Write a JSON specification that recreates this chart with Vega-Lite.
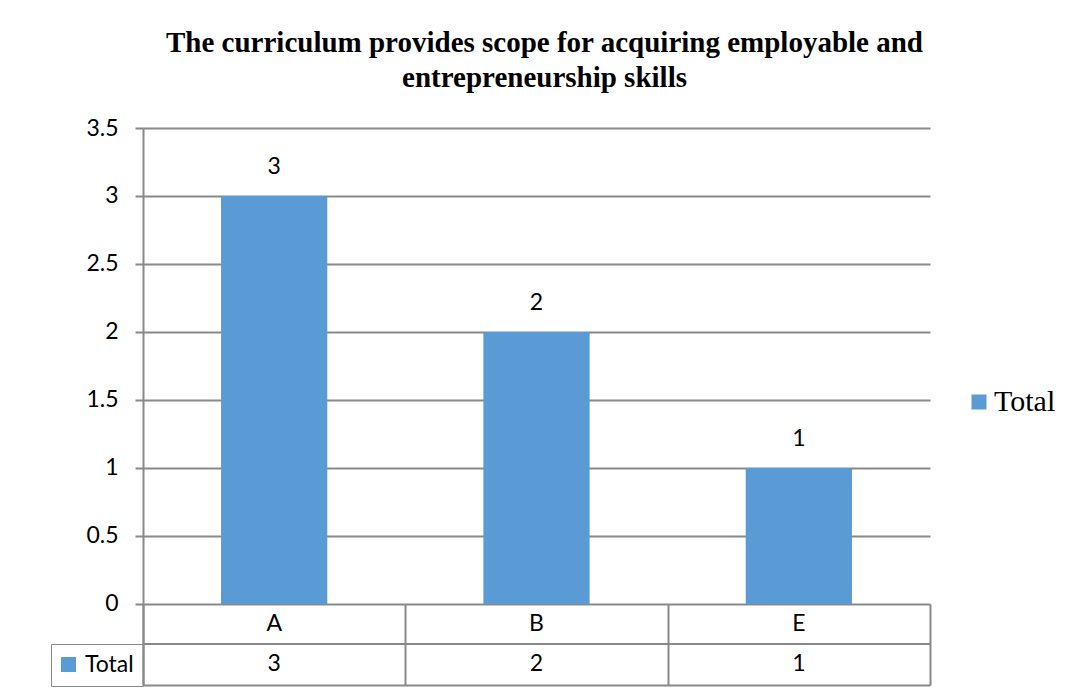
{
  "$schema": "https://vega.github.io/schema/vega-lite/v6.json",
  "autosize": "none",
  "padding": {"left": 143, "top": 128, "right": 141, "bottom": 12},
  "width": 787,
  "height": 557,
  "background": "white",
  "config": {
    "view": {"stroke": null},
    "font": "Lato"
  },
  "title": {
    "text": ["The curriculum provides scope for acquiring employable and", "entrepreneurship skills"],
    "font": "Liberation Serif",
    "fontWeight": "bold",
    "fontSize": 29,
    "lineHeight": 35,
    "color": "#000000",
    "anchor": "middle",
    "frame": "group",
    "dx": 8,
    "offset": 24
  },
  "data": {
    "values": [
      {"cat": "A", "value": 3, "series": "Total"},
      {"cat": "B", "value": 2, "series": "Total"},
      {"cat": "E", "value": 1, "series": "Total"}
    ]
  },
  "layer": [
    {
      "mark": {"type": "bar", "width": {"band": 0.405}},
      "encoding": {
        "x": {
          "field": "cat",
          "type": "nominal",
          "sort": null,
          "scale": {"paddingInner": 0, "paddingOuter": 0},
          "axis": {
            "title": null,
            "labels": false,
            "tickBand": "extent",
            "tickSize": -81,
            "tickColor": "#898989",
            "tickWidth": 2,
            "domainColor": "#898989",
            "domainWidth": 2
          }
        },
        "y": {
          "field": "value",
          "type": "quantitative",
          "scale": {"domain": [-0.596, 3.5], "nice": false, "zero": false},
          "axis": {
            "title": null,
            "values": [0, 0.5, 1, 1.5, 2, 2.5, 3, 3.5],
            "format": "~g",
            "grid": true,
            "gridColor": "#898989",
            "gridWidth": 2,
            "tickSize": 8,
            "tickColor": "#898989",
            "tickWidth": 2,
            "domainColor": "#898989",
            "domainWidth": 2,
            "labelFont": "Lato",
            "labelFontSize": 23,
            "labelColor": "#000000",
            "labelPadding": 17
          }
        },
        "color": {
          "field": "series",
          "type": "nominal",
          "scale": {"range": ["#5B9BD5"]},
          "legend": {
            "title": null,
            "orient": "none",
            "legendX": 821,
            "legendY": 259,
            "padding": 0,
            "symbolType": "square",
            "symbolSize": 225,
            "symbolStrokeWidth": 0,
            "labelFont": "Liberation Serif",
            "labelFontSize": 30,
            "labelColor": "#000000",
            "labelOffset": 0
          }
        }
      }
    },
    {
      "mark": {"type": "text", "baseline": "alphabetic", "dy": -22, "fontSize": 23, "font": "Lato", "color": "#000000"},
      "encoding": {
        "x": {"field": "cat", "type": "nominal", "sort": null},
        "y": {"field": "value", "type": "quantitative"},
        "text": {"field": "value", "type": "quantitative"}
      }
    },
    {
      "mark": {"type": "text", "baseline": "middle", "fontSize": 23, "font": "Lato", "color": "#000000"},
      "encoding": {
        "x": {"field": "cat", "type": "nominal", "sort": null},
        "y": {"datum": -0.147, "type": "quantitative"},
        "text": {"field": "cat", "type": "nominal"}
      }
    },
    {
      "mark": {"type": "text", "baseline": "middle", "fontSize": 23, "font": "Lato", "color": "#000000"},
      "encoding": {
        "x": {"field": "cat", "type": "nominal", "sort": null},
        "y": {"datum": -0.445, "type": "quantitative"},
        "text": {"field": "value", "type": "quantitative"}
      }
    },
    {
      "mark": {"type": "rule", "color": "#898989", "strokeWidth": 2},
      "encoding": {
        "y": {"datum": -0.294, "type": "quantitative"}
      }
    },
    {
      "transform": [{"filter": "false"}],
      "mark": {"type": "point", "filled": true, "opacity": 1, "color": "#5B9BD5"},
      "encoding": {
        "shape": {
          "field": "series",
          "type": "nominal",
          "scale": {"domain": ["Total"], "range": ["square"]},
          "legend": {
            "title": null,
            "orient": "none",
            "legendX": -92,
            "legendY": 516,
            "padding": 9,
            "strokeColor": "#898989",
            "symbolSize": 225,
            "symbolStrokeWidth": 0,
            "symbolOffset": -3,
            "symbolFillColor": "#5B9BD5",
            "labelFont": "Lato",
            "labelFontSize": 23,
            "labelColor": "#000000",
            "labelOffset": 5
          }
        }
      }
    }
  ]
}
